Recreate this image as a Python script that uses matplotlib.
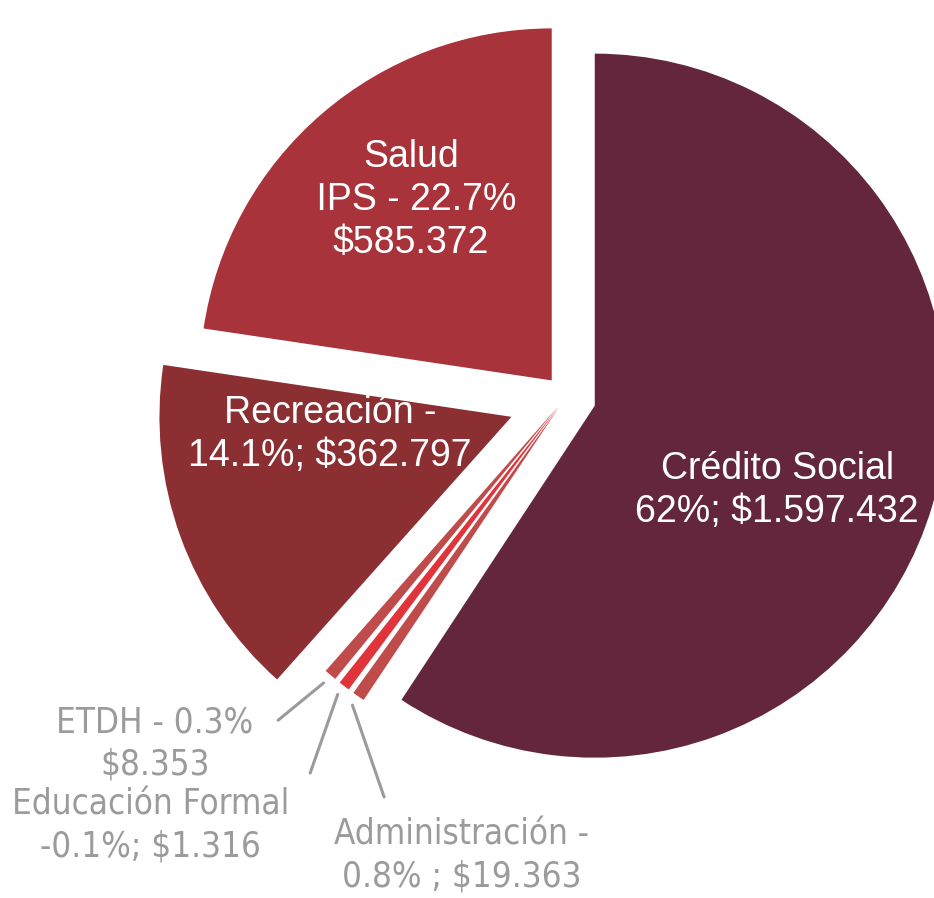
import numpy as np
import matplotlib
matplotlib.use("Agg")
import matplotlib.pyplot as plt

# data (labels as printed on the chart)
labels = ['Crédito Social', 'Administración', 'Educación Formal', 'ETDH', 'Recreación', 'Salud IPS']
percents = ['62%', '0.8%', '-0.1%', '0.3%', '14.1%', '22.7%']
amounts = ['$1.597.432', '$19.363', '$1.316', '$8.353', '$362.797', '$585.372']
# share of the circle each slice takes in the drawing (%)
shares = [59.4, 0.8, 0.75, 0.8, 15.8, 22.7]

# style
colors = ['#63263d', '#c04b4b', '#e0343a', '#c04b4b', '#8b2f33', '#a8333a']
explode = [0.085, 0.035, 0.035, 0.035, 0.165, 0.0625]
gray = '#9b9b9b'

fig = plt.figure(figsize=(9.34, 8.98), dpi=100)
ax = fig.add_axes([0, 0, 1, 1])

wedges, _ = ax.pie(shares, colors=colors, explode=explode, startangle=90,
                   counterclock=False, radius=1.0, center=(0, 0))

# small angular gap between the thin slivers
pad = 0.42
for w in wedges[1:4]:
    w.set_theta1(w.theta1 + pad)
    w.set_theta2(w.theta2 - pad)

ax.set_xlim(-1.608, 1.045)
ax.set_ylim(-1.423, 1.128)
ax.set_aspect('equal')
ax.axis('off')

# labels inside the big slices
inside = {
    0: (f"{labels[0]}\n{percents[0]}; {amounts[0]}", (0.60, -0.265)),
    4: (f"{labels[4]} -\n{percents[4]}; {amounts[4]}", (-0.67, -0.107)),
    5: (f"Salud\n IPS - {percents[5]}\n{amounts[5]}", (-0.44, 0.56)),
}
for i, (txt, pos) in inside.items():
    ax.text(pos[0], pos[1], txt, ha='center', va='center', color='white',
            fontsize=27, family='Liberation Sans', linespacing=1.25)

# labels outside the small slivers, with leader lines
outside = {
    1: (f"{labels[1]} -\n{percents[1]} ; {amounts[1]}", (-0.297, -1.302), (-0.517, -1.136)),
    2: (f"{labels[2]}\n{percents[2]}; {amounts[2]}", (-1.18, -1.218), (-0.727, -1.068)),
    3: (f"{labels[3]} - {percents[3]}\n{amounts[3]}", (-1.168, -0.985), (-0.818, -0.918)),
}
for i, (txt, pos, start) in outside.items():
    w = wedges[i]
    mid = np.deg2rad((w.theta1 + w.theta2) / 2)
    cx, cy = w.center
    tip = (cx + 1.03 * np.cos(mid), cy + 1.03 * np.sin(mid))
    ax.annotate('', xy=tip, xytext=start,
                arrowprops=dict(arrowstyle='-', color=gray, lw=2.2,
                                shrinkA=0, shrinkB=0))
    ax.text(pos[0], pos[1], txt, ha='center', va='center', color=gray,
            fontsize=25, family='DejaVu Sans', stretch='condensed',
            linespacing=1.3)

plt.savefig('out.png', dpi=100)
